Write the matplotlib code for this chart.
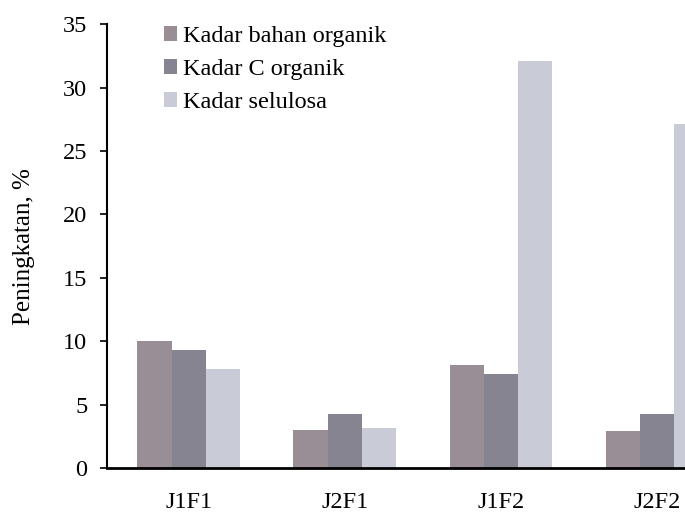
import numpy as np
import matplotlib
matplotlib.use('Agg')
import matplotlib.pyplot as plt

plt.rcParams['font.family'] = ['Liberation Serif', 'DejaVu Serif']

# Дані
categories = ['J1F1', 'J2F1', 'J1F2', 'J2F2']
series_names = ['Kadar bahan organik', 'Kadar C organik', 'Kadar selulosa']
bahan_organik = [10.0, 3.0, 8.1, 2.9]
c_organik = [9.3, 4.3, 7.4, 4.3]
selulosa = [7.8, 3.2, 32.1, 27.1]
y_ticks = [0, 5, 10, 15, 20, 25, 30, 35]

colors = ['#9a8e96', '#858490', '#c9ccd6']

fig = plt.figure(figsize=(6.85, 5.15), dpi=100)
# вісь виходить за правий край, як на скані
ax = fig.add_axes([0.156, 0.091, 0.923, 0.862])

x = np.arange(len(categories))
w = 0.22
for i, (vals, name) in enumerate(zip([bahan_organik, c_organik, selulosa], series_names)):
    ax.bar(x + (i - 1) * w, vals, width=w, color=colors[i], label=name)

ax.set_xlim(-0.526, 3.526)
ax.set_ylim(0, 35)
ax.set_yticks(y_ticks)
ax.set_xticks(x)
ax.set_xticklabels(categories)
ax.tick_params(axis='y', labelsize=17.5, length=5, width=1.2, direction='out', pad=9)
ax.tick_params(axis='x', labelsize=17.5, length=0, pad=17)
ax.set_ylabel('Peningkatan, %', fontsize=18, labelpad=20)

for s in ['top', 'right']:
    ax.spines[s].set_visible(False)
ax.spines['left'].set_linewidth(1.5)
ax.spines['bottom'].set_linewidth(2)

ax.legend(loc='upper left', bbox_to_anchor=(0.055, 1.045), frameon=False,
          fontsize=17.5, handlelength=0.55, handleheight=0.55, handletextpad=0.25,
          labelspacing=0.5)

fig.savefig('out.png', dpi=100)
